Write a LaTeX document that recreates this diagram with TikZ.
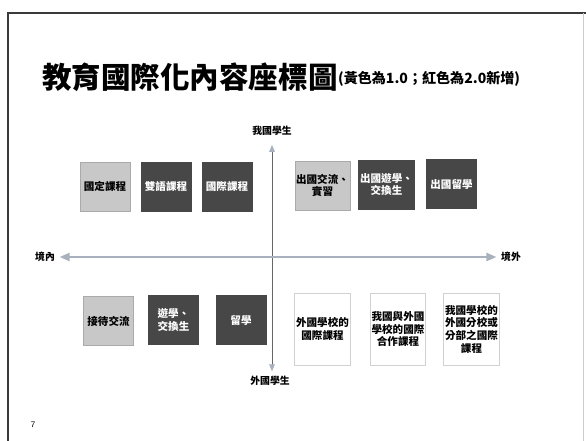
\documentclass[tikz,border=0pt]{standalone}
\usepackage{fontspec}
\newfontfamily\cjk{Noto Sans CJK TC}
\usetikzlibrary{arrows.meta}
\definecolor{lightbox}{HTML}{C8C8C8}
\definecolor{darkbox}{HTML}{474747}
\definecolor{axisblue}{HTML}{A9B0BE}
\definecolor{framegray}{HTML}{3A3A3A}

\begin{document}
\begin{tikzpicture}[x=0.025cm,y=-0.025cm,
    box/.style={minimum width=1.25cm,minimum height=1.225cm,inner sep=1pt,
      align=center,font=\cjk\bfseries\fontsize{7.5}{9}\selectfont},
    lightcell/.style={box,fill=lightbox,draw=lightbox!85!black,line width=0.3pt},
    darkcell/.style={box,fill=darkbox,draw=darkbox,text=white},
    whitecell/.style={box,minimum width=1.32cm,minimum height=1.8cm,fill=white,draw=black!18,line width=0.4pt},
    axislabel/.style={font=\cjk\bfseries\fontsize{7}{8}\selectfont}]
  \useasboundingbox (0,0) rectangle (586,441);
  % frame
  \draw[framegray,line width=1.2pt] (8,441) -- (8,13) -- (586,13);
  \draw[black!20,line width=0.4pt] (583,13) -- (583,441);
  % title
  \node[anchor=west,inner sep=0pt,font=\cjk\bfseries\fontsize{21}{23}\selectfont] (title) at (42,77) {教育國際化內容座標圖};
  \node[anchor=west,inner sep=0pt,font=\cjk\bfseries\fontsize{10}{12}\selectfont] (note) at ([yshift=-1pt]title.east) {(黃色為1.0；紅色為2.0新增)};
  % axes
  \node[axislabel] (we) at (272,131) {我國學生};
  \node[axislabel] (them) at (270,381) {外國學生};
  \node[axislabel] (inner) at (45,257) {境內};
  \node[axislabel] (outer) at (511,257) {境外};
  \draw[black!60,line width=0.6pt,{Triangle[width=4pt,length=5pt,fill=axisblue,color=axisblue]}-{Triangle[width=4pt,length=5pt,fill=axisblue,color=axisblue]},shorten <=3pt]
    (we.south) -- (we.south |- them.north);
  \draw[axisblue,line width=1pt,{Triangle[width=6pt,length=7pt]}-{Triangle[width=6pt,length=7pt]}]
    (inner.east) -- (outer.west);
  % top left
  \node[lightcell] (tl1) at (105,186.5) {國定課程};
  \node[darkcell] (tl2) at (166,186.5) {雙語課程};
  \node[darkcell] (tl3) at (227,186.5) {國際課程};
  % top right
  \node[lightcell] (tr1) at (322.5,185.5) {出國交流、\\實習};
  \node[darkcell] (tr2) at (386.5,184.5) {出國遊學、\\交換生};
  \node[darkcell] (tr3) at (451.5,184) {出國留學};
  % bottom left
  \node[lightcell] (bl1) at (108.5,321) {接待交流};
  \node[darkcell] (bl2) at (173.5,320) {遊學、\\交換生};
  \node[darkcell] (bl3) at (241,320) {留學};
  % bottom right
  \node[whitecell] (br1) at (322.5,329) {外國學校的\\國際課程};
  \node[whitecell] (br2) at (398,329) {我國與外國\\學校的國際\\合作課程};
  \node[whitecell] (br3) at (471.5,329) {我國學校的\\外國分校或\\分部之國際\\課程};
  % page number
  \node[font=\sffamily\fontsize{6}{7}\selectfont] (page) at (33,425) {7};
\end{tikzpicture}
\end{document}
